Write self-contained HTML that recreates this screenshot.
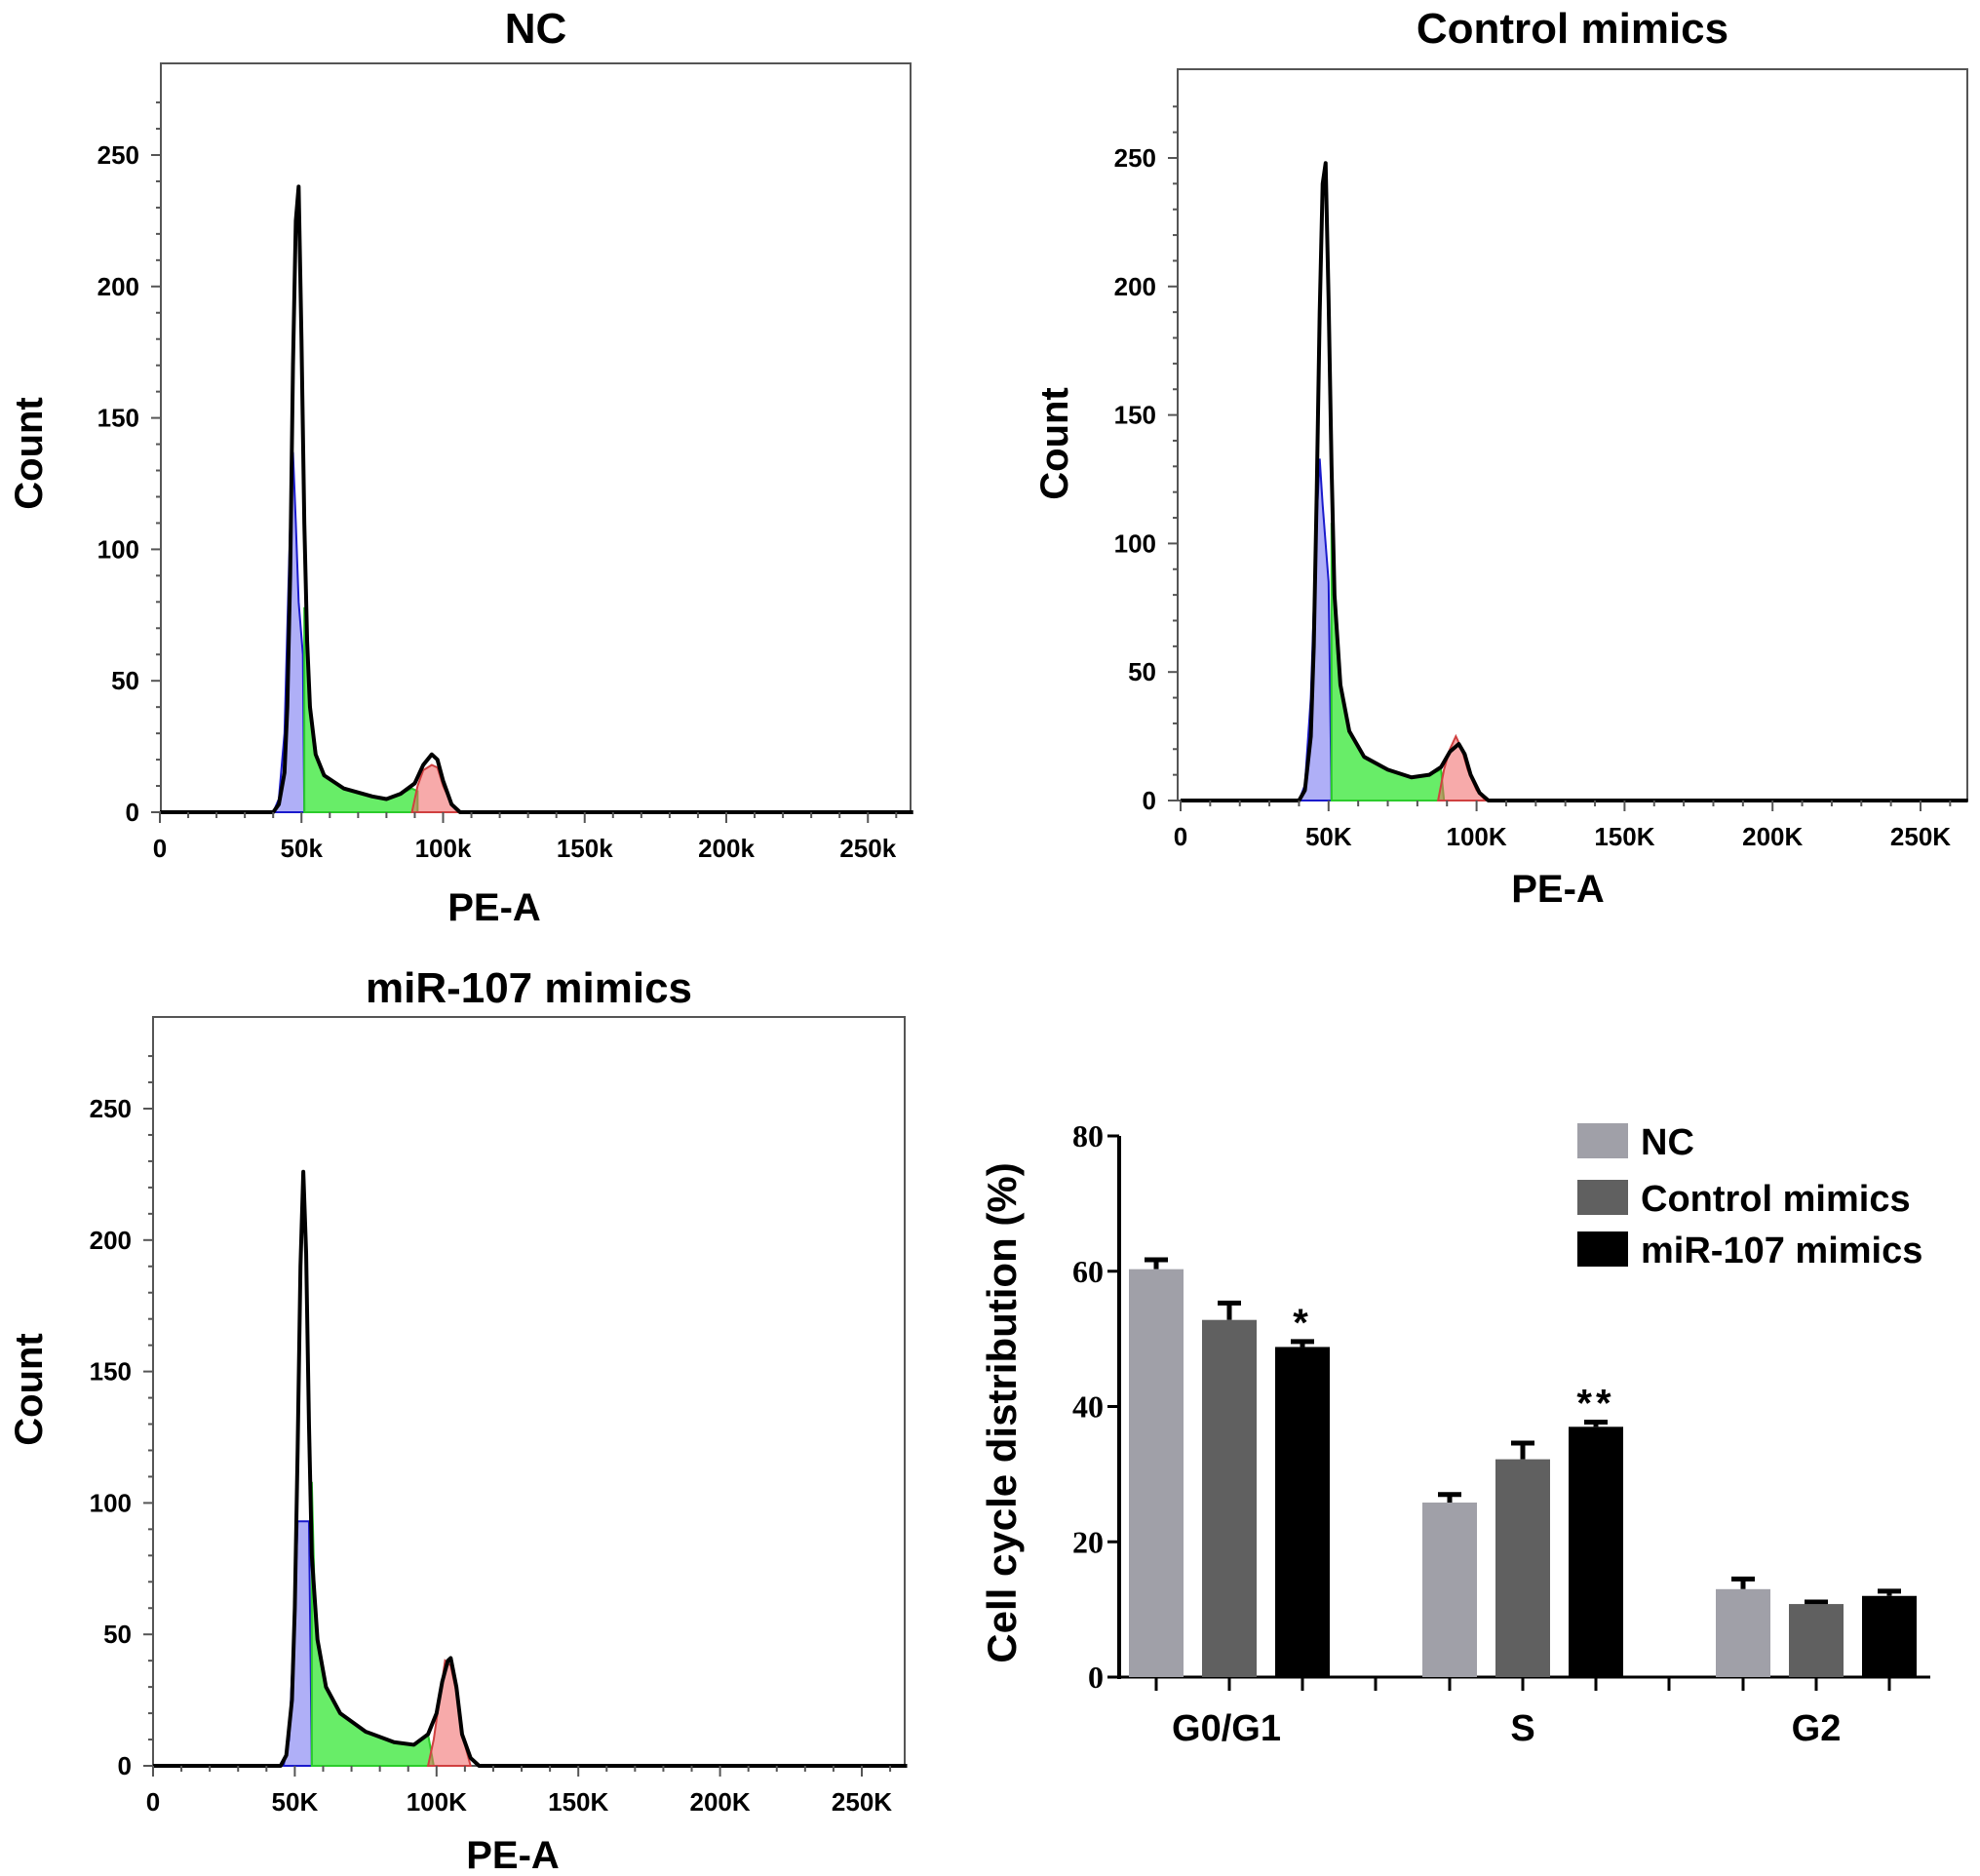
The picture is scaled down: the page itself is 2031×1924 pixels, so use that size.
<!DOCTYPE html>
<html><head><meta charset="utf-8"><style>
html,body{margin:0;padding:0;background:#fff;}
svg{display:block;font-family:"Liberation Sans",Arial,sans-serif;}
</style></head><body>
<svg id="fig" width="2031" height="1924" viewBox="0 0 2031 1924" xmlns="http://www.w3.org/2000/svg"></svg>
<script>
// ---------- histogram data (x in k units, y counts) ----------
const ncTotal=[[0,0],[40,0],[42,3],[44,15],[45,40],[46,90],[47,170],[48,225],[49,238],[50,180],[51,110],[52,65],[53,40],[55,22],[58,14],[65,9],[75,6],[80,5],[85,7],[90,11],[93,18],[96,22],[98,20],[100,12],[103,3],[106,0],[266,0]];
const ncG1=[[40,0],[42,5],[44,30],[46,110],[47,137],[48,110],[49,80],[50.5,60],[51,0]];
const ncS=[[51,0],[51,78],[52,60],[53,40],[55,22],[58,14],[65,9],[75,6],[80,5],[85,7],[89,9],[91,8],[91,0]];
const ncG2=[[89,0],[91,10],[93,16],[96,18],[98,17],[100,10],[103,3],[106,0]];

const ctTotal=[[0,0],[40,0],[42,4],[44,25],[45,60],[46,120],[47,190],[48,240],[49,248],[50,195],[51,130],[52,80],[54,45],[57,27],[62,17],[70,12],[78,9],[84,10],[88,13],[91,19],[94,22],[96,18],[98,10],[101,3],[104,0],[266,0]];
const ctG1=[[40,0],[42,6],[44,40],[46,110],[47,133],[48,115],[50,85],[51,0]];
const ctS=[[51,0],[51,108],[52,80],[54,45],[57,27],[62,17],[70,12],[78,9],[84,10],[88,12],[89,0]];
const ctG2=[[87,0],[89,12],[91,20],[93,25],[95,20],[97,12],[100,4],[103,0]];

const miTotal=[[0,0],[45,0],[47,4],[49,25],[50,60],[51,120],[52,190],[53,226],[54,195],[55,130],[56,80],[58,48],[61,30],[66,20],[75,13],[85,9],[92,8],[97,12],[100,20],[102,32],[104,40],[105,41],[107,30],[109,12],[112,3],[115,0],[266,0]];
const miG1=[[46,0],[48,10],[50,60],[51,93],[55,93],[56,0]];
const miS=[[56,0],[56,108],[57,65],[58,48],[61,30],[66,20],[75,13],[85,9],[92,8],[97,12],[99,0]];
const miG2=[[97,0],[99,10],[101,25],[103,40],[105,38],[107,28],[109,12],[112,0]];

const yTicks=[0,50,100,150,200,250];
const xTicksK=[0,50,100,150,200,250];
const xLabelsLower=["0","50k","100k","150k","200k","250k"];
const xLabelsUpper=["0","50K","100K","150K","200K","250K"];

// ---------- bar chart data ----------
const categories=["G0/G1","S","G2"];
const seriesNames=["NC","Control mimics","miR-107 mimics"];
const ncVals=[60.3,25.8,13.0];
const ctVals=[52.8,32.2,10.8];
const miVals=[48.8,37.0,12.0];
const ncErr=[1.4,1.2,1.5];
const ctErr=[2.5,2.4,0.3];
const miErr=[0.8,0.7,0.7];
const barTicks=[0,20,40,60,80];
const sigMarksMi=["*","**",""];

const NS="http://www.w3.org/2000/svg";
const svg=document.getElementById('fig');
function mk(tag,attrs,parent){const e=document.createElementNS(NS,tag);for(const k in attrs)e.setAttribute(k,attrs[k]);(parent||svg).appendChild(e);return e;}

function panel(cfg){
  const g=mk('g',{});
  
  
  const X=v=>cfg.x0+v*cfg.kx, Y=v=>cfg.y0-v*cfg.ky;
  const t=mk('text',{x:(cfg.left+cfg.right)/2,y:cfg.titleY,'text-anchor':'middle','font-size':44,'font-weight':'bold'},g);
  t.textContent=cfg.title;
  
  
  const box=mk('rect',{x:cfg.left,y:cfg.top,width:cfg.right-cfg.left,height:cfg.y0-cfg.top,fill:'none',stroke:'#555','stroke-width':2},g);
  
  
  const poly=(pts,fill,stroke,nm)=>{const p=mk('polygon',{points:pts.map(q=>X(q[0])+','+Y(q[1])).join(' '),fill:fill,stroke:stroke,'stroke-width':2},g);
    
    };
  poly(cfg.g1,'rgba(110,110,240,0.55)','#1a1acc','g1-peak');
  poly(cfg.s,'rgba(40,230,40,0.7)','#2ccc2c','s-phase');
  poly(cfg.g2,'rgba(240,100,100,0.55)','#d04040','g2-peak');
  const line=mk('polyline',{points:cfg.total.map(q=>X(q[0])+','+Y(q[1])).join(' '),fill:'none',stroke:'#000','stroke-width':4,'stroke-linejoin':'round'},g);
  
  
  for(let v=0;v<=270;v+=10){const y=Y(v);if(y<cfg.top)break;mk('line',{x1:cfg.left-(v%50?5:10),x2:cfg.left,y1:y,y2:y,stroke:'#555','stroke-width':2},g);}
  yTicks.forEach(v=>{const tx=mk('text',{x:cfg.left-22,y:Y(v)+9,'text-anchor':'end','font-size':26,'font-weight':'bold'},g);tx.textContent=v;
    
    });
  for(let v=0;v<=260;v+=10){const x=X(v);mk('line',{x1:x,x2:x,y1:cfg.y0,y2:cfg.y0+(v%50?6:11),stroke:'#555','stroke-width':2},g);}
  xTicksK.forEach((v,i)=>{const tx=mk('text',{x:X(v),y:cfg.y0+46,'text-anchor':'middle','font-size':26,'font-weight':'bold'},g);tx.textContent=cfg.xl[i];
    
    });
  const yt=mk('text',{x:0,y:0,transform:`translate(${cfg.countX},${cfg.countY}) rotate(-90)`,'text-anchor':'middle','font-size':40,'font-weight':'bold'},g);
  yt.textContent='Count';
  
  
  const xt=mk('text',{x:cfg.peX,y:cfg.peY,'text-anchor':'middle','font-size':40,'font-weight':'bold'},g);
  xt.textContent='PE-A';
  
  
}
panel({name:'nc-histogram',title:'NC',titleY:44,left:165,top:65,right:934,x0:164,kx:2.905,y0:833,ky:2.696,total:ncTotal,g1:ncG1,s:ncS,g2:ncG2,xl:xLabelsLower,countX:43,countY:465,peX:507,peY:944});
panel({name:'control-mimics-histogram',title:'Control mimics',titleY:44,left:1208,top:71,right:2018,x0:1211,kx:3.036,y0:821,ky:2.636,total:ctTotal,g1:ctG1,s:ctS,g2:ctG2,xl:xLabelsUpper,countX:1095,countY:455,peX:1598,peY:925});
panel({name:'mir107-mimics-histogram',title:'miR-107 mimics',titleY:1028,left:157,top:1043,right:928,x0:157,kx:2.908,y0:1811,ky:2.696,total:miTotal,g1:miG1,s:miS,g2:miG2,xl:xLabelsUpper,countX:43,countY:1425,peX:526,peY:1916});

// ---------- bar chart ----------
(function(){
  const g=mk('g',{});
  
  
  const ax=1148, y0=1720, ky=(1720-1165)/80;
  const Y=v=>y0-v*ky;
  const groupX=i=>1261+i*301, barStep=75, bw=56;
  const colors=['#a0a0a8','#606060','#000000'];
  mk('line',{x1:ax,x2:ax,y1:Y(80),y2:y0+2,stroke:'#000','stroke-width':4},g);
  mk('line',{x1:ax-2,x2:1980,y1:y0,y2:y0,stroke:'#000','stroke-width':3},g);
  barTicks.forEach(v=>{mk('line',{x1:ax-12,x2:ax,y1:Y(v),y2:Y(v),stroke:'#000','stroke-width':3},g);
    const t=mk('text',{x:ax-16,y:Y(v)+11,'text-anchor':'end','font-size':32,'font-weight':'bold','font-family':'Liberation Serif,serif'},g);t.textContent=v;
    
    });
  const vals=[ncVals,ctVals,miVals], errs=[ncErr,ctErr,miErr];
  categories.forEach((c,i)=>{
    for(let s=0;s<3;s++){
      const cx=groupX(i)+(s-1)*barStep;
      mk('line',{x1:cx,x2:cx,y1:y0,y2:y0+14,stroke:'#000','stroke-width':3},g);
      const v=vals[s][i], e=errs[s][i];
      mk('line',{x1:cx,x2:cx,y1:Y(v),y2:Y(v+e),stroke:'#000','stroke-width':5},g);
      mk('line',{x1:cx-12,x2:cx+12,y1:Y(v+e),y2:Y(v+e),stroke:'#000','stroke-width':5},g);
      const r=mk('rect',{x:cx-bw/2,y:Y(v),width:bw,height:y0-Y(v),fill:colors[s]},g);
      
      
      if(s===2&&sigMarksMi[i]){const t=mk('text',{x:cx,y:Y(v+e)-6,'text-anchor':'middle','font-size':40,'font-weight':'bold','letter-spacing':4},g);t.textContent=sigMarksMi[i];
        
        }
    }
    if(i<2) mk('line',{x1:groupX(i)+150,x2:groupX(i)+150,y1:y0,y2:y0+14,stroke:'#000','stroke-width':3},g);
    const t=mk('text',{x:groupX(i)-(i===0?3:0),y:1785,'text-anchor':'middle','font-size':38,'font-weight':'bold'},g);t.textContent=c;
    
    
  });
  const yt=mk('text',{x:0,y:0,transform:'translate(1042,1449) rotate(-90)','text-anchor':'middle','font-size':42,'font-weight':'bold'},g);
  yt.textContent='Cell cycle distribution (%)';
  
  
  const ly=[1170,1228,1281];
  seriesNames.forEach((n,s)=>{
    const le=mk('g',{},g);
    
    
    mk('rect',{x:1618,y:ly[s]-18,width:52,height:36,fill:colors[s]},le);
    const t=mk('text',{x:1683,y:ly[s]+14,'font-size':38,'font-weight':'bold'},le);t.textContent=n;
  });
})();
</script>
</body></html>
